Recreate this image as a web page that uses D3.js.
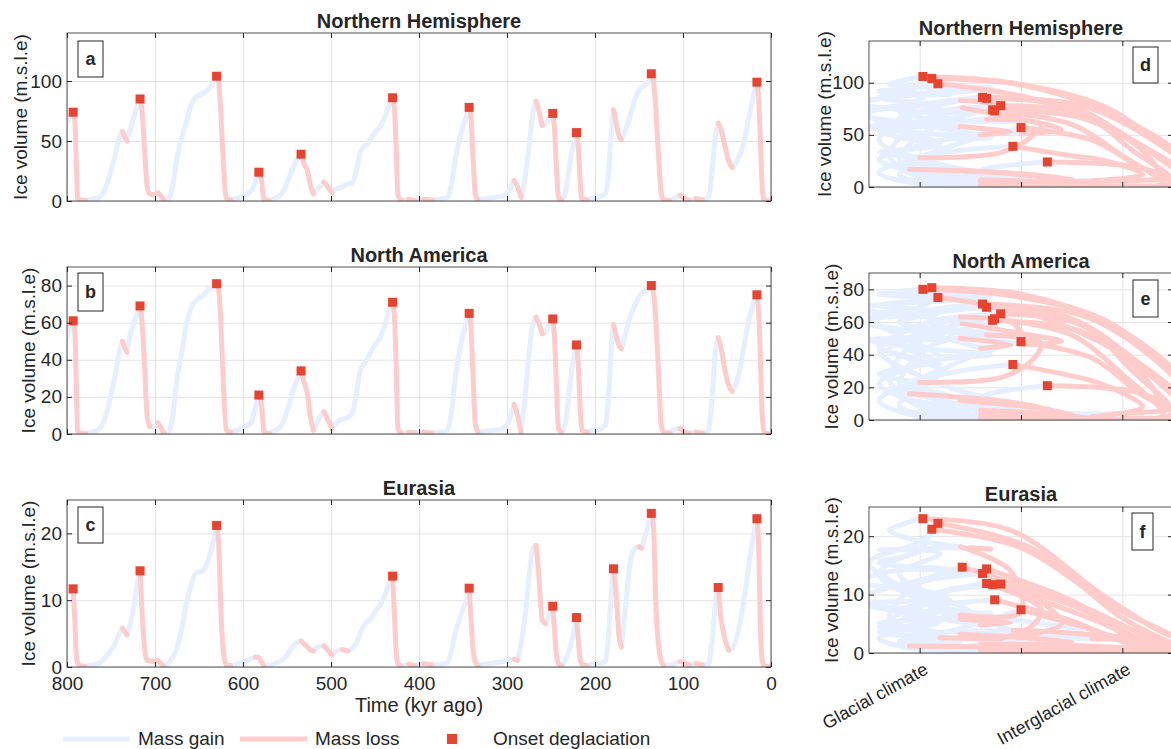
<!DOCTYPE html>
<html>
<head>
<meta charset="utf-8">
<script src="https://cdn.jsdelivr.net/npm/d3@7"></script>
<style>
  body { margin: 0; background: #fff; }
  svg text { font-family: 'Liberation Sans', Arial, Helvetica, sans-serif; fill: #262626; }
</style>
</head>
<body>
<div id="chart"></div>
<script>
const timeKyr = [800, 797, 793, 791, 789.5, 788, 785, 779, 772, 764, 758, 753, 746, 740, 737, 734, 732, 728, 724, 720,
  717, 715, 712, 709, 706, 701, 697, 694, 690, 685, 680, 675, 670, 664, 659, 653, 647, 641, 636, 630,
  627.5, 625, 622, 619, 614, 607, 598, 591, 586, 582, 579, 576, 570, 563, 556, 550, 544, 538, 534, 530,
  527, 523, 520, 515, 508, 503, 499, 494, 487, 481, 476, 471, 467, 462, 459, 455, 449, 444, 438, 434,
  430, 428, 426, 424, 420, 412, 404, 395, 385, 375, 368, 363, 358, 353, 349, 346, 343, 341, 338.5, 336,
  333, 325, 315, 305, 298, 292, 288, 284, 279, 275, 271, 267, 264, 260, 256, 252, 248, 246, 244, 241.5,
  238, 234, 230, 226, 221, 219, 217, 215, 209, 202, 195, 188, 184, 181, 179, 176, 173, 170, 166, 162,
  158, 154, 150, 147, 144, 140, 136, 133.5, 131, 128, 125, 122, 115, 108, 103, 98, 93, 85, 78, 71,
  67, 63, 60, 57, 53, 48, 44, 39, 34, 29, 25, 21, 16, 14, 12, 10, 8, 4, 0]

const nhVolume = [65, 70, 74, 66, 35, 3, 0.8, 0.5, 1.5, 3, 8, 18, 36, 54, 58, 53, 50, 60, 70, 79,
  85, 77, 45, 12, 6, 5, 7, 5, 0.5, 1.5, 12, 36, 52, 67, 80, 87, 89, 92, 96, 104,
  98, 70, 28, 2, 1, 2.5, 5, 8, 16, 24, 18, 1, 0.5, 2.5, 6, 15, 26, 35, 39, 30,
  26, 12, 6, 10, 16, 11, 7, 10, 12, 14, 15, 26, 40, 46, 47, 52, 58, 62, 72, 80,
  86, 78, 45, 5, 0.5, 1.5, 0.5, 1.5, 0.8, 1.5, 3, 14, 38, 55, 64, 71, 78, 70, 35, 6,
  1, 2, 3, 4, 8, 17, 12, 3, 22, 45, 72, 83, 76, 63, 64, 69, 73, 60, 30, 3,
  1, 6, 25, 42, 57, 45, 18, 2, 1, 2.5, 3.5, 6, 30, 62, 76, 65, 55, 51, 58, 66,
  76, 86, 92, 95, 96, 99, 106, 100, 78, 40, 8, 1, 0.5, 3, 5, 2, 0.5, 2, 1, 3,
  25, 55, 65, 60, 48, 33, 28, 33, 41, 55, 70, 84, 99, 85, 50, 12, 1, 0.5, 0.5]

const naVolume = [52, 57, 61, 54, 28, 2, 0.5, 0.3, 1, 2.5, 7, 15, 30, 45, 50, 46, 44, 54, 60, 65,
  69, 62, 38, 10, 4, 4, 6, 4, 0.3, 1, 9, 30, 43, 60, 68, 72, 74, 77, 79, 81,
  77, 58, 24, 2, 1, 2, 4, 6, 14, 21, 16, 1, 0.3, 2, 5, 12, 22, 30, 34, 27,
  22, 8, 2, 7, 12, 7, 3, 6, 8, 9, 11, 22, 34, 38, 40, 44, 49, 52, 60, 67,
  71, 64, 38, 3, 0.3, 1, 0.5, 1, 0.5, 1, 2, 12, 33, 47, 55, 60, 65, 58, 30, 5,
  1, 1.5, 2, 3, 7, 16, 10, 1, 22, 43, 58, 63, 60, 54, 55, 59, 62, 52, 28, 3,
  1, 5, 20, 36, 48, 38, 15, 2, 1, 2, 2.5, 5, 25, 50, 59, 53, 48, 46, 53, 60,
  66, 70, 74, 76, 77, 78, 80, 76, 62, 35, 6, 1, 0.5, 3, 3, 1, 0.5, 1, 0.5, 2,
  20, 45, 52, 47, 36, 26, 23, 28, 38, 52, 62, 69, 75, 65, 40, 10, 1, 0.3, 0.3]

const euVolume = [11.0, 11.4, 11.7, 6.5, 2.0, 0.6, 0.2, 0.1, 0.3, 0.5, 1.2, 2.0, 3.3, 5.2, 5.8, 5.2, 4.8, 6.5, 9.0, 12.5,
  14.4, 9, 3, 1, 0.9, 0.8, 1.0, 0.6, 0.1, 0.5, 1.5, 2.8, 5.5, 9.7, 12.2, 14.2, 14.3, 15.5, 17.5, 21.2,
  18, 8, 2, 0.3, 0.2, 0.4, 0.8, 1.2, 1.5, 1.4, 0.7, 0.1, 0.3, 0.6, 1.0, 1.8, 3.0, 3.7, 3.9, 3.4,
  3.0, 2.5, 2.4, 3.0, 3.2, 2.4, 1.8, 2.4, 2.6, 2.4, 2.8, 3.6, 5.0, 6.3, 6.8, 7.2, 8.5, 9.3, 11.0, 12.5,
  13.6, 8, 2.5, 0.5, 0.1, 0.4, 0.2, 0.5, 0.3, 0.4, 0.6, 2.5, 5.5, 7.5, 9.0, 10.0, 11.8, 7.5, 2.5, 0.8,
  0.2, 0.4, 0.6, 0.8, 1.0, 1.2, 1.0, 3.5, 8.0, 13.5, 17.5, 18.2, 14, 7.0, 6.5, 7.8, 9.1, 5.5, 2, 0.5,
  0.2, 1.0, 2.2, 4.2, 7.4, 4, 1.2, 0.4, 0.2, 0.5, 0.5, 0.9, 6, 12, 14.7, 11, 5.0, 3.0, 8, 13.5,
  17.0, 17.8, 18.0, 17.8, 19.2, 21.0, 23.0, 21, 10, 3.5, 1, 0.2, 0.3, 0.6, 0.8, 0.6, 0.3, 0.5, 0.3, 0.5,
  4, 9.5, 11.9, 7.5, 4.5, 2.5, 2.8, 4.5, 7.5, 11.5, 15.5, 19, 22.2, 18, 6, 1, 0.2, 0.1, 0.1]

const climateIndex = [0.15, 0.25, 0.36, 0.8, 1.1, 1.2, 1.0, 0.7, 0.3, 0.0, 0.2, -0.1, 0.1, -0.2, 0.2, 0.45, 0.3, 0.0, -0.3, 0.0,
  0.33, 0.75, 1.05, 1.3, 1.0, 0.6, 0.3, 0.6, 0.9, 0.3, -0.1, 0.1, -0.15, 0.1, -0.3, -0.1, 0.15, -0.2, 0.0, 0.06,
  0.5, 0.95, 1.3, 1.35, 0.9, 0.5, 0.1, 0.25, 0.3, 0.63, 1.1, 1.3, 0.8, 0.35, 0.0, 0.2, -0.05, 0.2, 0.46, 0.75,
  0.9, 1.1, 0.85, 0.4, 0.2, 0.6, 0.75, 0.35, 0.1, 0.4, 0.0, -0.2, 0.0, 0.15, 0.35, 0.0, -0.25, 0.1, -0.1, 0.05,
  0.31, 0.8, 1.15, 1.4, 1.3, 0.9, 0.7, 0.3, 0.6, 0.2, 0.0, -0.2, 0.1, -0.1, 0.15, 0.05, 0.4, 0.8, 1.05, 1.25,
  1.2, 0.8, 0.4, 0.1, 0.25, -0.05, 0.5, 0.8, 0.1, -0.2, 0.0, 0.2, 0.45, 0.5, 0.2, 0.05, 0.37, 0.75, 1.0, 1.2,
  1.0, 0.3, 0.0, 0.2, 0.5, 0.85, 1.1, 1.3, 1.0, 0.6, 0.3, 0.05, -0.15, 0.0, 0.21, 0.5, 0.7, 0.5, 0.2, -0.1,
  0.1, -0.2, 0.25, 0.35, 0.0, -0.15, 0.016, 0.45, 0.9, 1.2, 1.4, 1.35, 1.0, 0.55, 0.3, 0.7, 0.95, 0.45, 0.7, 0.2,
  -0.1, 0.05, 0.33, 0.6, 0.55, 0.4, 0.0, -0.2, 0.1, -0.1, -0.25, 0.0, 0.09, 0.55, 1.0, 1.3, 1.4, 1.35, 1.3]

const nhOnset = [793, 717, 630, 582, 534, 430, 343, 248, 221, 136, 16]
const naOnset = [793, 717, 630, 582, 534, 430, 343, 248, 221, 136, 16]
const euOnset = [793, 717, 630, 430, 343, 248, 221, 179, 136, 60, 16]

const regionNames = ['Northern Hemisphere', 'North America', 'Eurasia']
const timeTicks = [800, 700, 600, 500, 400, 300, 200, 100, 0]
const climateTicks = [0, 0.5, 1]
const climateLabels = ['Glacial climate', '', 'Interglacial climate']
const nhTicks = [0, 50, 100]
const naTicks = [0, 20, 40, 60, 80]
const euTicks = [0, 10, 20]
const legendLabels = ['Mass gain', 'Mass loss', 'Onset deglaciation']

window.onload = function () {
  const width = 1171
  const height = 749
  const gainColor = '#e6efff'
  const lossColor = '#ffcccc'
  const onsetColor = '#e8432e'
  const axisColor = '#262626'
  const gridColor = '#e3e3e3'

  var svg = d3.select('#chart')
    .append('svg')
    .attr('width', width)
    .attr('height', height)

  var rows = [
    { name: regionNames[0], vol: nhVolume, onset: nhOnset, yMax: 140, yTicks: nhTicks, letters: ['a', 'd'],
      left: { top: 33, bottom: 201, labelX: 27, titleY: 28 }, right: { top: 41, bottom: 187, labelX: 831, titleY: 35 },
      boxes: [[78, 41, 25, 36], [1133, 47, 25, 36]] },
    { name: regionNames[1], vol: naVolume, onset: naOnset, yMax: 90, yTicks: naTicks, letters: ['b', 'e'],
      left: { top: 267, bottom: 434, labelX: 35, titleY: 262 }, right: { top: 273, bottom: 420, labelX: 838, titleY: 268 },
      boxes: [[78, 273, 25, 38], [1133, 280, 25, 37]] },
    { name: regionNames[2], vol: euVolume, onset: euOnset, yMax: 25, yTicks: euTicks, letters: ['c', 'f'],
      left: { top: 500, bottom: 667, labelX: 35, titleY: 495 }, right: { top: 507, bottom: 653, labelX: 838, titleY: 501 },
      boxes: [[78, 507, 25, 36], [1132, 513, 21, 37]] }
  ]

  // split a series into runs of growing / shrinking ice
  function runs (vol) {
    var out = []
    var cur = null
    for (var i = 0; i < vol.length - 1; i++) {
      var gain = vol[i + 1] >= vol[i]
      if (!cur || cur.gain !== gain) {
        cur = { gain: gain, idx: [i] }
        out.push(cur)
      }
      cur.idx.push(i + 1)
    }
    return out
  }

  function drawPanel (id, x, y, xTicks, row, pos, curve, xf, letterBox, letter, showXLabels) {
    var g = svg.append('g')
    var x0 = x.range()[0]
    var x1 = x.range()[1]
    var y0 = y.range()[0]
    var y1 = y.range()[1]

    // grid
    g.append('g')
      .attr('transform', 'translate(0,' + y0 + ')')
      .call(d3.axisBottom(x).tickValues(xTicks).tickSize(-(y0 - y1)).tickFormat(''))
      .call(function (s) { s.select('.domain').remove() })
      .selectAll('line').attr('stroke', gridColor)
    g.append('g')
      .attr('transform', 'translate(' + x0 + ',0)')
      .call(d3.axisLeft(y).tickValues(row.yTicks).tickSize(-(x1 - x0)).tickFormat(''))
      .call(function (s) { s.select('.domain').remove() })
      .selectAll('line').attr('stroke', gridColor)

    g.append('clipPath').attr('id', id)
      .append('rect')
      .attr('x', x0).attr('y', y1).attr('width', x1 - x0).attr('height', y0 - y1)

    var line = d3.line()
      .curve(curve)
      .x(function (i) { return xf(i) })
      .y(function (i) { return y(row.vol[i]) })

    var segs = runs(row.vol)
    var data = g.append('g').attr('clip-path', 'url(#' + id + ')')
    data.selectAll('.gain')
      .data(segs.filter(function (s) { return s.gain }))
      .enter().append('path')
      .attr('class', 'gain')
      .attr('d', function (s) { return line(s.idx) })
      .attr('fill', 'none')
      .attr('stroke', gainColor)
      .attr('stroke-width', 5)
      .attr('stroke-linecap', 'round')
      .attr('stroke-linejoin', 'round')
    data.selectAll('.loss')
      .data(segs.filter(function (s) { return !s.gain }))
      .enter().append('path')
      .attr('class', 'loss')
      .attr('d', function (s) { return line(s.idx) })
      .attr('fill', 'none')
      .attr('stroke', lossColor)
      .attr('stroke-width', 5)
      .attr('stroke-linecap', 'round')
      .attr('stroke-linejoin', 'round')

    g.selectAll('.onset')
      .data(row.onset.map(function (t) { return timeKyr.indexOf(t) }))
      .enter().append('rect')
      .attr('class', 'onset')
      .attr('x', function (i) { return xf(i) - 4.5 })
      .attr('y', function (i) { return y(row.vol[i]) - 4.5 })
      .attr('width', 9)
      .attr('height', 9)
      .attr('fill', onsetColor)

    // frame and inward ticks
    g.append('rect')
      .attr('x', x0).attr('y', y1).attr('width', x1 - x0).attr('height', y0 - y1)
      .attr('fill', 'none').attr('stroke', axisColor).attr('stroke-width', 0.8)

    var bottom = g.append('g')
      .attr('transform', 'translate(0,' + y0 + ')')
      .call(d3.axisBottom(x).tickValues(xTicks).tickSize(-5).tickPadding(10)
        .tickFormat(showXLabels ? null : ''))
    g.append('g')
      .attr('transform', 'translate(0,' + y1 + ')')
      .call(d3.axisTop(x).tickValues(xTicks).tickSize(-5).tickFormat(''))
    g.append('g')
      .attr('transform', 'translate(' + x0 + ',0)')
      .call(d3.axisLeft(y).tickValues(row.yTicks).tickSize(-5).tickPadding(5))
    g.append('g')
      .attr('transform', 'translate(' + x1 + ',0)')
      .call(d3.axisRight(y).tickValues(row.yTicks).tickSize(-5).tickFormat(''))
    g.selectAll('.domain').remove()
    g.selectAll('.tick line').filter(function () { return d3.select(this).attr('stroke') !== gridColor })
      .attr('stroke', axisColor)
    g.selectAll('.tick text').attr('font-size', 19).attr('fill', axisColor)

    // y label and title
    g.append('text')
      .attr('transform', 'translate(' + pos.labelX + ',' + ((y0 + y1) / 2) + ') rotate(-90)')
      .attr('text-anchor', 'middle')
      .attr('font-size', 19)
      .text('Ice volume (m.s.l.e)')
    g.append('text')
      .attr('x', (x0 + Math.min(x1, 1173)) / 2)
      .attr('y', pos.titleY)
      .attr('text-anchor', 'middle')
      .attr('font-size', 20)
      .attr('font-weight', 'bold')
      .text(row.name)

    g.append('rect')
      .attr('x', letterBox[0]).attr('y', letterBox[1])
      .attr('width', letterBox[2]).attr('height', letterBox[3])
      .attr('fill', '#fff').attr('stroke', axisColor).attr('stroke-width', 1)
    g.append('text')
      .attr('x', letterBox[0] + letterBox[2] / 2)
      .attr('y', letterBox[1] + letterBox[3] / 2 + 6)
      .attr('text-anchor', 'middle')
      .attr('font-size', 18)
      .attr('font-weight', 'bold')
      .text(letter)

    return bottom
  }

  rows.forEach(function (row, r) {
    // time series a-c
    var xTime = d3.scaleLinear().domain([800, 0]).range([67, 771])
    var yL = d3.scaleLinear().domain([0, row.yMax]).range([row.left.bottom, row.left.top])
    drawPanel('clipL' + r, xTime, yL, timeTicks, row, row.left, d3.curveMonotoneX,
      function (i) { return xTime(timeKyr[i]) }, row.boxes[0], row.letters[0], r === 2)
    if (r === 2) {
      svg.append('text')
        .attr('x', 419).attr('y', 712)
        .attr('text-anchor', 'middle')
        .attr('font-size', 20)
        .text('Time (kyr ago)')
    }

    // hysteresis d-f
    var xClim = d3.scaleLinear().domain([-0.25, 1.25]).range([869, 1173])
    var yR = d3.scaleLinear().domain([0, row.yMax]).range([row.right.bottom, row.right.top])
    var bottomR = drawPanel('clipR' + r, xClim, yR, climateTicks, row, row.right, d3.curveCatmullRom.alpha(0.5),
      function (i) { return xClim(climateIndex[i]) }, row.boxes[1], row.letters[1], r === 2)
    if (r === 2) {
      bottomR.selectAll('.tick text')
        .text(function (d, i) { return climateLabels[i] })
        .attr('text-anchor', 'end')
        .attr('font-size', 18)
        .attr('dy', null)
        .attr('y', 0)
        .attr('transform', 'translate(9,20) rotate(-29)')
    }
  })

  // legend
  var legend = svg.append('g')
  legend.append('line').attr('x1', 63).attr('x2', 130).attr('y1', 739).attr('y2', 739)
    .attr('stroke', gainColor).attr('stroke-width', 5)
  legend.append('text').attr('x', 138).attr('y', 745).attr('font-size', 19).text(legendLabels[0])
  legend.append('line').attr('x1', 240).attr('x2', 307).attr('y1', 739).attr('y2', 739)
    .attr('stroke', lossColor).attr('stroke-width', 5)
  legend.append('text').attr('x', 315).attr('y', 745).attr('font-size', 19).text(legendLabels[1])
  legend.append('rect').attr('x', 447).attr('y', 734).attr('width', 10).attr('height', 10)
    .attr('fill', onsetColor)
  legend.append('text').attr('x', 493).attr('y', 745).attr('font-size', 19).text(legendLabels[2])
}
</script>
</body>
</html>
